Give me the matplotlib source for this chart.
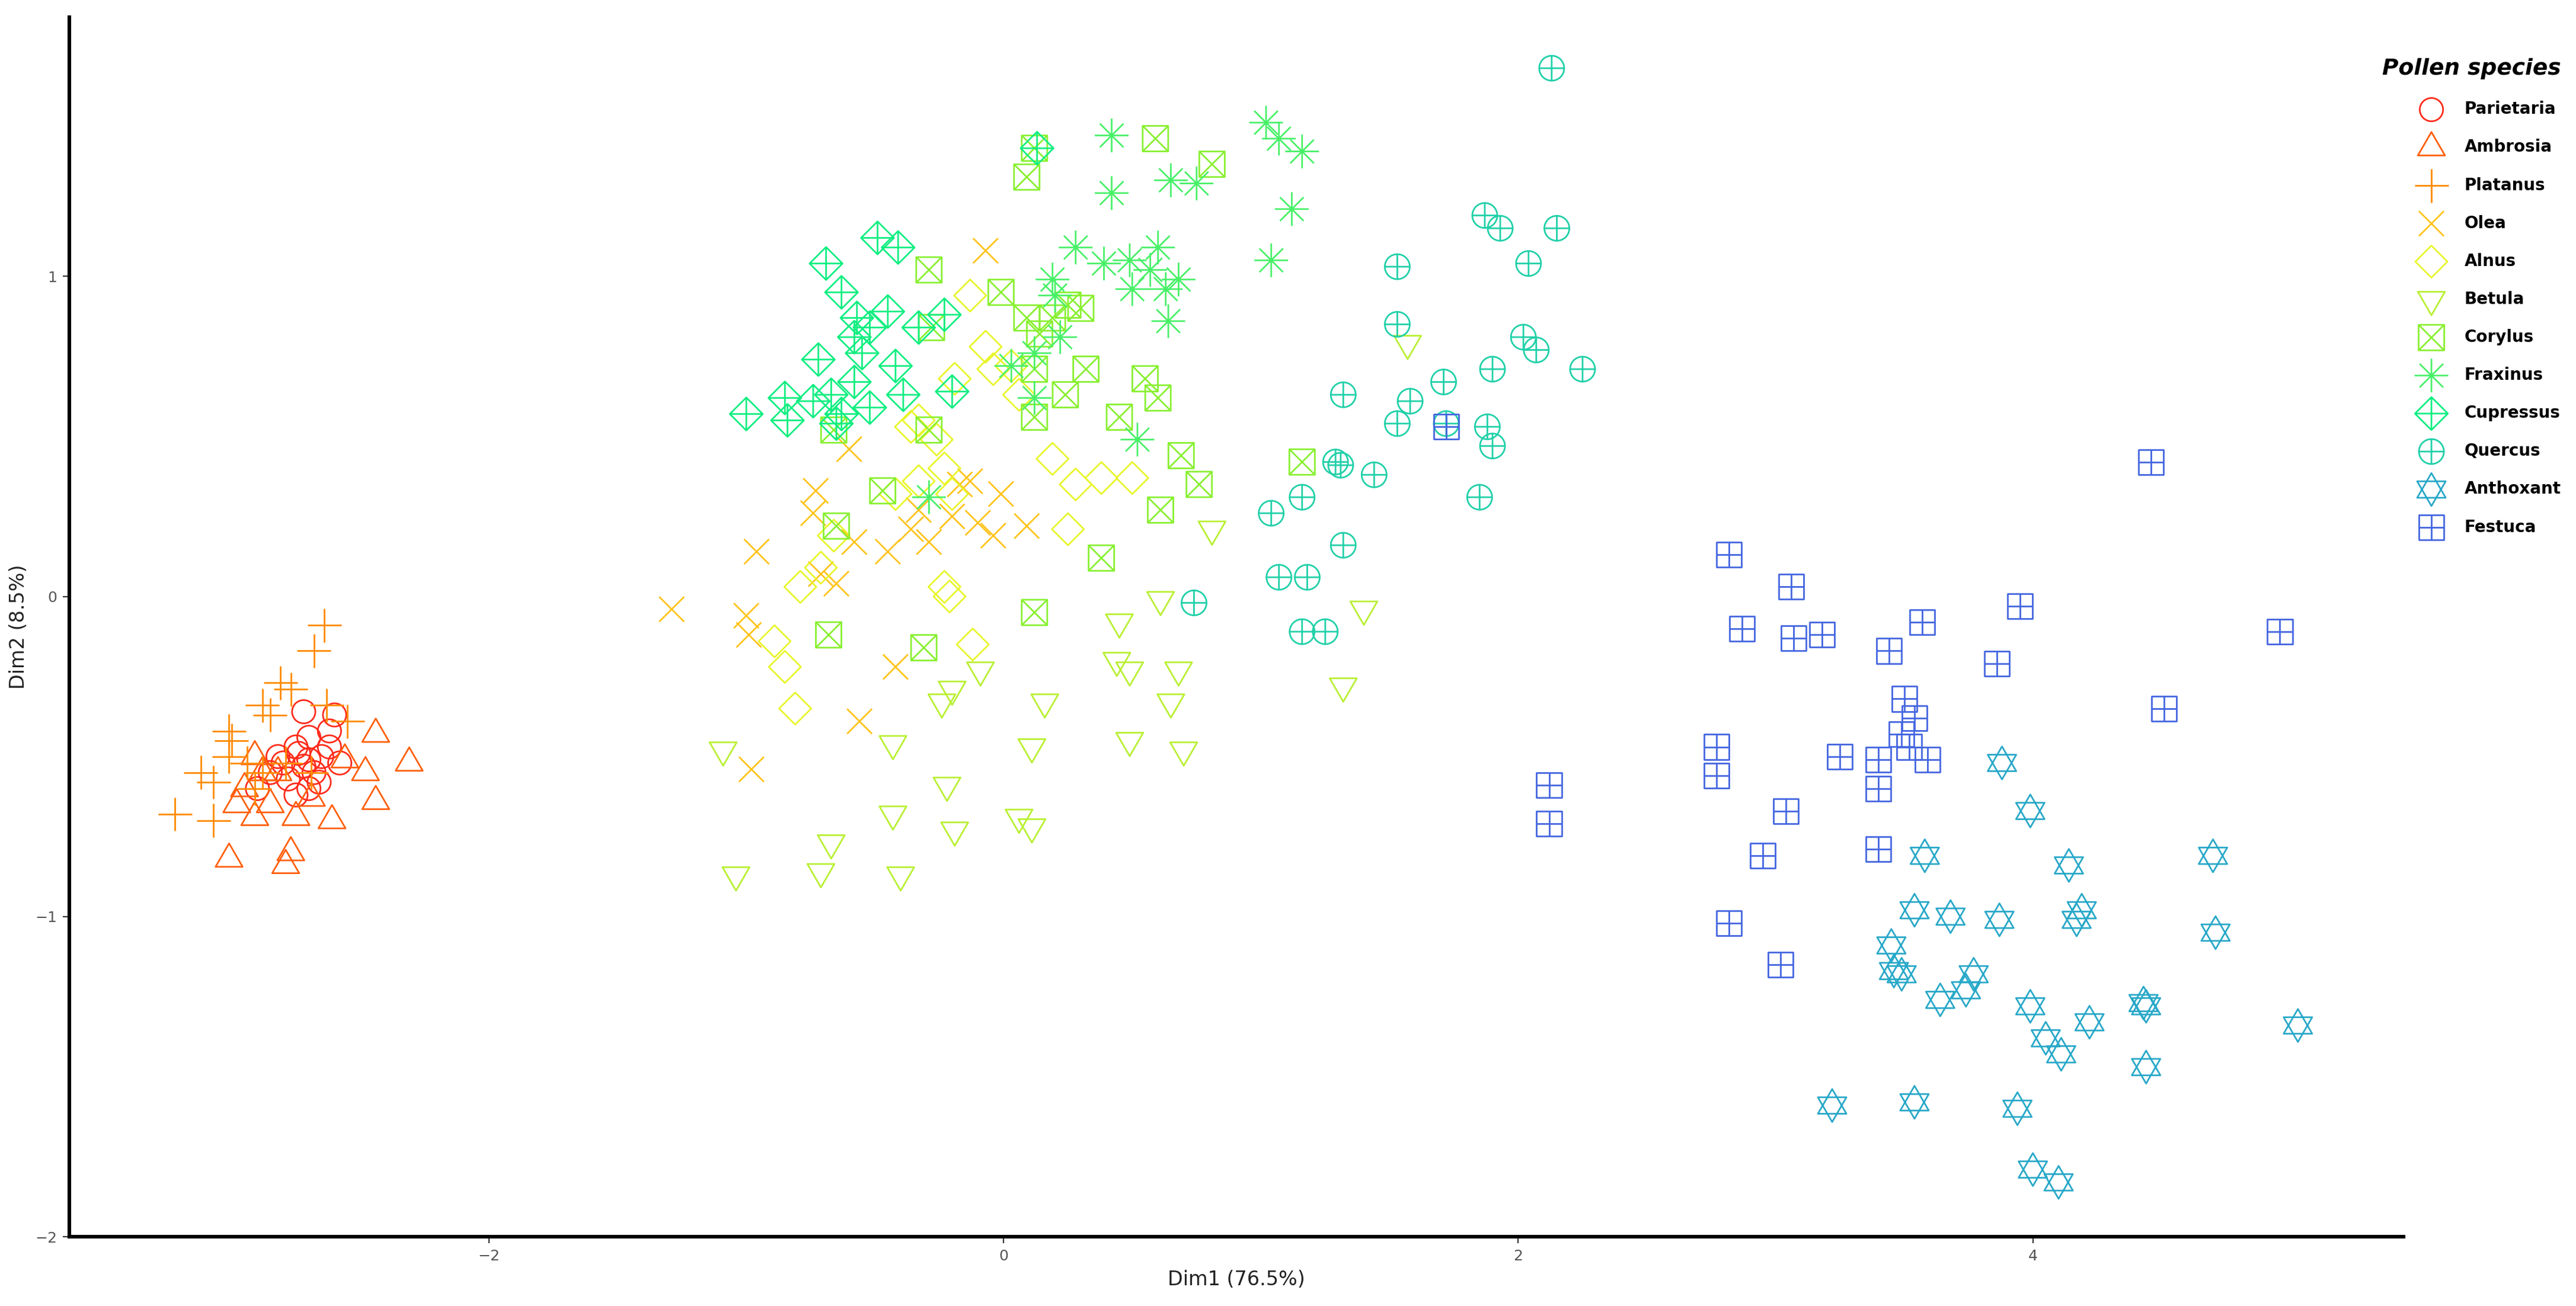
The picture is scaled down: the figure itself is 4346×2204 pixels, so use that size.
import numpy as np
import matplotlib
matplotlib.use("Agg")
import matplotlib.pyplot as plt
from matplotlib.path import Path

species = ["Parietaria", "Ambrosia", "Platanus", "Olea", "Alnus", "Betula",
           "Corylus", "Fraxinus", "Cupressus", "Quercus", "Anthoxant", "Festuca"]
colors = ["#FF2A1A", "#FF5E0A", "#FF8A00", "#FFC31A", "#E8F52A", "#B8F030",
          "#88F030", "#48F068", "#10EE80", "#20D0A8", "#28A8C8", "#4466E0"]

parietaria = [(-2.72, -0.36), (-2.6, -0.37), (-2.62, -0.42), (-2.7, -0.44), (-2.75, -0.47),
              (-2.65, -0.5), (-2.8, -0.52), (-2.72, -0.53), (-2.68, -0.55), (-2.78, -0.57),
              (-2.85, -0.55), (-2.7, -0.6), (-2.75, -0.62), (-2.58, -0.52), (-2.62, -0.47),
              (-2.9, -0.6), (-2.82, -0.5), (-2.66, -0.58), (-2.74, -0.49), (-2.7, -0.51)]
ambrosia = [(-2.44, -0.43), (-2.31, -0.52), (-2.44, -0.64), (-2.61, -0.70), (-3.01, -0.82),
            (-2.79, -0.84), (-2.77, -0.80), (-2.75, -0.69), (-2.91, -0.69), (-2.95, -0.60),
            (-2.56, -0.51), (-2.48, -0.55), (-2.88, -0.55), (-2.85, -0.65), (-2.69, -0.63),
            (-2.98, -0.65), (-2.91, -0.50), (-2.82, -0.55)]
platanus = [(-2.64, -0.09), (-2.68, -0.17), (-2.81, -0.27), (-2.77, -0.29), (-2.88, -0.34),
            (-2.85, -0.37), (-3.01, -0.42), (-3.0, -0.45), (-3.01, -0.50), (-3.12, -0.55),
            (-3.07, -0.58), (-3.22, -0.68), (-3.07, -0.70), (-2.55, -0.39), (-2.63, -0.34),
            (-2.91, -0.6), (-2.88, -0.55), (-2.69, -0.55), (-2.79, -0.52), (-2.94, -0.52)]
olea = [(-1.29, -0.04), (-0.96, 0.14), (-1.0, -0.06), (-0.99, -0.12), (-0.98, -0.54),
        (-0.74, 0.26), (-0.71, 0.07), (-0.65, 0.04), (-0.6, 0.46), (-0.58, 0.17),
        (-0.56, -0.39), (-0.45, 0.14), (-0.42, -0.22), (-0.33, 0.27), (-0.29, 0.17),
        (-0.17, 0.35), (-0.10, 0.23), (-0.07, 1.08), (-0.01, 0.32), (0.09, 0.22),
        (-0.04, 0.19), (-0.73, 0.33), (-0.36, 0.21), (-0.13, 0.36), (-0.2, 0.25)]
alnus = [(-0.89, -0.14), (-0.85, -0.22), (-0.81, -0.35), (-0.79, 0.03), (-0.71, 0.09),
         (-0.66, 0.19), (-0.36, 0.53), (-0.33, 0.55), (-0.26, 0.49), (-0.23, 0.03),
         (-0.21, 0.0), (-0.12, -0.15), (-0.07, 0.78), (-0.13, 0.94), (-0.19, 0.68),
         (-0.04, 0.71), (0.03, 0.72), (0.06, 0.63), (0.19, 0.43), (0.25, 0.21),
         (0.28, 0.35), (0.38, 0.37), (0.50, 0.37), (-0.2, 0.32), (-0.33, 0.36),
         (-0.23, 0.4), (-0.42, 0.32)]
betula = [(-1.09, -0.48), (-1.04, -0.87), (-0.71, -0.86), (-0.67, -0.77), (-0.43, -0.68),
          (-0.40, -0.87), (-0.43, -0.46), (-0.24, -0.33), (-0.22, -0.59), (-0.19, -0.73),
          (-0.2, -0.29), (-0.09, -0.23), (0.06, -0.69), (0.11, -0.72), (0.11, -0.47),
          (0.16, -0.33), (0.45, -0.08), (0.44, -0.20), (0.49, -0.23), (0.49, -0.45),
          (0.61, -0.01), (0.65, -0.33), (0.68, -0.23), (0.70, -0.48), (0.81, 0.21),
          (1.32, -0.28), (1.40, -0.04), (1.57, 0.79)]
corylus = [(0.12, 1.40), (0.09, 1.31), (0.59, 1.43), (0.81, 1.35), (-0.29, 1.02),
           (-0.28, 0.84), (-0.01, 0.95), (0.09, 0.87), (0.14, 0.82), (0.25, 0.91),
           (0.19, 0.87), (0.30, 0.90), (0.12, 0.71), (0.24, 0.63), (0.32, 0.71),
           (0.55, 0.68), (0.60, 0.62), (0.45, 0.56), (0.69, 0.44), (0.76, 0.35),
           (0.61, 0.27), (0.38, 0.12), (0.12, -0.05), (-0.29, 0.52), (-0.66, 0.52),
           (-0.65, 0.22), (-0.47, 0.33), (-0.31, -0.16), (-0.68, -0.12), (0.12, 0.56),
           (1.16, 0.42)]
fraxinus = [(1.02, 1.48), (1.07, 1.43), (1.16, 1.39), (0.75, 1.29), (0.65, 1.30),
            (0.42, 1.44), (0.42, 1.26), (1.12, 1.21), (1.04, 1.05), (0.28, 1.09),
            (0.39, 1.04), (0.49, 1.05), (0.50, 0.96), (0.57, 1.02), (0.60, 1.09),
            (0.63, 0.96), (0.64, 0.86), (0.03, 0.72), (0.19, 0.99), (0.22, 0.81),
            (0.12, 0.62), (0.52, 0.49), (-0.29, 0.31), (0.12, 0.76), (0.20, 0.94),
            (0.68, 0.99)]
cupressus = [(0.13, 1.40), (-0.69, 1.04), (-0.49, 1.12), (-0.41, 1.09), (-0.63, 0.95),
             (-0.57, 0.87), (-0.52, 0.84), (-0.45, 0.89), (-0.23, 0.88), (-0.33, 0.84),
             (-0.42, 0.72), (-0.58, 0.81), (-0.72, 0.74), (-0.74, 0.61), (-0.67, 0.63),
             (-0.63, 0.57), (-0.58, 0.67), (-0.55, 0.76), (-0.85, 0.62), (-1.0, 0.57),
             (-0.84, 0.55), (-0.65, 0.54), (-0.20, 0.64), (-0.39, 0.63), (-0.52, 0.59)]
quercus = [(2.13, 1.65), (1.87, 1.19), (1.93, 1.15), (2.15, 1.15), (1.53, 1.03),
           (2.04, 1.04), (2.02, 0.81), (2.07, 0.77), (2.25, 0.71), (1.90, 0.71),
           (1.53, 0.85), (1.71, 0.67), (1.58, 0.61), (1.53, 0.54), (1.88, 0.53),
           (1.90, 0.47), (1.72, 0.54), (1.85, 0.31), (1.44, 0.38), (1.32, 0.63),
           (1.29, 0.42), (1.31, 0.41), (1.16, 0.31), (1.04, 0.26), (1.32, 0.16),
           (1.07, 0.06), (1.18, 0.06), (1.16, -0.11), (1.25, -0.11), (0.74, -0.02)]
anthoxant = [(3.88, -0.52), (3.99, -0.67), (3.58, -0.81), (3.54, -0.98), (3.68, -1.0),
             (3.87, -1.01), (4.14, -0.84), (4.19, -0.98), (4.17, -1.01), (4.70, -0.81),
             (4.71, -1.05), (3.45, -1.09), (3.46, -1.17), (3.49, -1.18), (3.77, -1.18),
             (3.74, -1.23), (3.64, -1.26), (3.99, -1.28), (4.05, -1.38), (4.11, -1.43),
             (4.22, -1.33), (4.43, -1.27), (4.44, -1.28), (4.44, -1.47), (5.03, -1.34),
             (3.22, -1.59), (3.54, -1.58), (3.94, -1.60), (4.00, -1.79), (4.10, -1.83)]
festuca = [(2.82, 0.13), (3.06, 0.03), (2.87, -0.10), (3.07, -0.13), (3.18, -0.12),
           (3.57, -0.08), (3.95, -0.03), (4.46, 0.42), (4.96, -0.11), (4.51, -0.35),
           (3.86, -0.21), (3.44, -0.17), (3.50, -0.32), (3.54, -0.38), (3.49, -0.43),
           (3.52, -0.47), (3.59, -0.51), (3.40, -0.51), (3.25, -0.50), (2.77, -0.47),
           (2.77, -0.56), (3.40, -0.60), (3.04, -0.67), (2.95, -0.81), (3.40, -0.79),
           (2.12, -0.59), (2.12, -0.71), (2.82, -1.02), (3.02, -1.15), (1.72, 0.53)]

data = [parietaria, ambrosia, platanus, olea, alnus, betula,
        corylus, fraxinus, cupressus, quercus, anthoxant, festuca]


def lines(segs):
    verts, codes = [], []
    for (a, b) in segs:
        verts += [a, b]
        codes += [Path.MOVETO, Path.LINETO]
    return Path(verts, codes)


def poly(pts):
    return Path(list(pts) + [pts[0]], [Path.MOVETO] + [Path.LINETO] * (len(pts) - 1) + [Path.CLOSEPOLY])


sq = poly([(-1, -1), (1, -1), (1, 1), (-1, 1)])
dia = poly([(0, -1), (1, 0), (0, 1), (-1, 0)])
plus = lines([((-1, 0), (1, 0)), ((0, -1), (0, 1))])
cross = lines([((-1, -1), (1, 1)), ((-1, 1), (1, -1))])
r = 0.7
diag = lines([((-r, -r), (r, r)), ((-r, r), (r, -r))])
tri_up = poly([(0, 1), (0.866, -0.5), (-0.866, -0.5)])
tri_dn = poly([(0, -1), (0.866, 0.5), (-0.866, 0.5)])
circ = Path.unit_circle()

markers = [
    circ,
    tri_up,
    plus,
    diag,
    dia,
    tri_dn,
    Path.make_compound_path(sq, cross),
    Path.make_compound_path(plus, diag),
    Path.make_compound_path(dia, plus),
    Path.make_compound_path(circ, plus),
    Path.make_compound_path(tri_up, tri_dn),
    Path.make_compound_path(sq, plus),
]
sizes = [200, 360, 420, 230, 380, 360, 240, 420, 400, 230, 400, 230]

fig = plt.figure(figsize=(21.73, 11.02), dpi=200)
ax = fig.add_axes([0.027, 0.053, 0.906, 0.934])

for name, pts, col, mk, s in zip(species, data, colors, markers, sizes):
    arr = np.array(pts)
    ax.scatter(arr[:, 0], arr[:, 1], marker=mk, s=s, facecolors="none",
               edgecolors=col, linewidths=1.0, label=name)

ax.set_xlim(-3.63, 5.44)
ax.set_ylim(-2, 1.81)
ax.set_xticks([-2, 0, 2, 4])
ax.set_yticks([-2, -1, 0, 1])
ax.spines["top"].set_visible(False)
ax.spines["right"].set_visible(False)
for sp in ["left", "bottom"]:
    ax.spines[sp].set_linewidth(2.2)
ax.tick_params(labelsize=9, colors="#555555", length=4)
ax.tick_params(axis="both", color="#333333")
ax.set_xlabel("Dim1 (76.5%)", fontsize=12, color="#222222")
ax.set_ylabel("Dim2 (8.5%)", fontsize=12, color="#222222")

leg = fig.legend(loc="upper right", bbox_to_anchor=(0.998, 0.963), frameon=False,
                 title="Pollen species", prop={"weight": "bold", "size": 10},
                 labelspacing=1.3, handletextpad=1.0, borderaxespad=0.2)
leg.get_title().set_fontsize(13.5)
leg.get_title().set_fontweight("bold")
leg.get_title().set_fontstyle("italic")
leg._legend_box.align = "right"

fig.savefig("out.png", dpi=200)
